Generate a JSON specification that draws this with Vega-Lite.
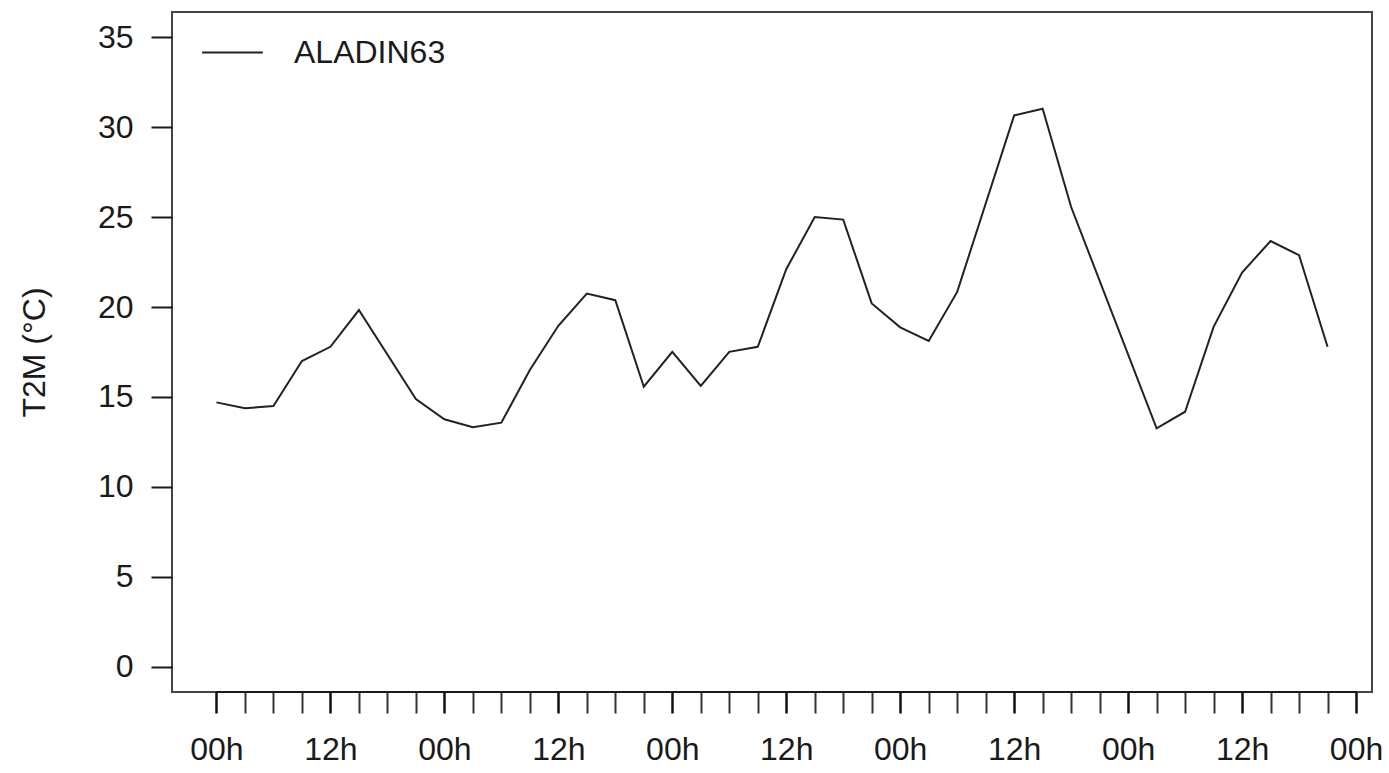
{
  "$schema": "https://vega.github.io/schema/vega-lite/v6.json",
  "autosize": {"type": "none"},
  "width": 1200,
  "height": 680,
  "padding": {"left": 172, "top": 12, "right": 17, "bottom": 81},
  "background": "white",
  "config": {
    "view": {"stroke": "#444", "strokeWidth": 2},
    "font": "Liberation Sans",
    "axis": {"grid": false, "domain": false, "labelFont": "Liberation Sans", "titleFont": "Liberation Sans", "labelColor": "#1a1a1a", "titleColor": "#1a1a1a", "tickColor": "#1a1a1a", "tickWidth": 2, "tickSize": 21, "labelFontSize": 32, "titleFontSize": 32, "titleFontWeight": "normal"}
  },
  "data": {"values": [
    {"h": 0, "t2m": 14.7, "model": "ALADIN63"},
    {"h": 3, "t2m": 14.37, "model": "ALADIN63"},
    {"h": 6, "t2m": 14.5, "model": "ALADIN63"},
    {"h": 9, "t2m": 17.0, "model": "ALADIN63"},
    {"h": 12, "t2m": 17.79, "model": "ALADIN63"},
    {"h": 15, "t2m": 19.83, "model": "ALADIN63"},
    {"h": 21, "t2m": 14.89, "model": "ALADIN63"},
    {"h": 24, "t2m": 13.76, "model": "ALADIN63"},
    {"h": 27, "t2m": 13.32, "model": "ALADIN63"},
    {"h": 30, "t2m": 13.57, "model": "ALADIN63"},
    {"h": 33, "t2m": 16.5, "model": "ALADIN63"},
    {"h": 36, "t2m": 18.96, "model": "ALADIN63"},
    {"h": 39, "t2m": 20.75, "model": "ALADIN63"},
    {"h": 42, "t2m": 20.38, "model": "ALADIN63"},
    {"h": 45, "t2m": 15.57, "model": "ALADIN63"},
    {"h": 48, "t2m": 17.51, "model": "ALADIN63"},
    {"h": 51, "t2m": 15.61, "model": "ALADIN63"},
    {"h": 54, "t2m": 17.51, "model": "ALADIN63"},
    {"h": 57, "t2m": 17.79, "model": "ALADIN63"},
    {"h": 60, "t2m": 22.1, "model": "ALADIN63"},
    {"h": 63, "t2m": 25.0, "model": "ALADIN63"},
    {"h": 66, "t2m": 24.86, "model": "ALADIN63"},
    {"h": 69, "t2m": 20.2, "model": "ALADIN63"},
    {"h": 72, "t2m": 18.87, "model": "ALADIN63"},
    {"h": 75, "t2m": 18.11, "model": "ALADIN63"},
    {"h": 78, "t2m": 20.84, "model": "ALADIN63"},
    {"h": 84, "t2m": 30.65, "model": "ALADIN63"},
    {"h": 87, "t2m": 31.02, "model": "ALADIN63"},
    {"h": 90, "t2m": 25.56, "model": "ALADIN63"},
    {"h": 99, "t2m": 13.26, "model": "ALADIN63"},
    {"h": 102, "t2m": 14.18, "model": "ALADIN63"},
    {"h": 105, "t2m": 18.9, "model": "ALADIN63"},
    {"h": 108, "t2m": 21.92, "model": "ALADIN63"},
    {"h": 111, "t2m": 23.67, "model": "ALADIN63"},
    {"h": 114, "t2m": 22.88, "model": "ALADIN63"},
    {"h": 117, "t2m": 17.79, "model": "ALADIN63"}
  ]},
  "layer": [
    {
      "mark": {"type": "rule", "color": "#1a1a1a", "strokeWidth": 2},
      "encoding": {
        "x": {"datum": 0, "type": "quantitative", "scale": {"domain": [-4.68, 121.68], "nice": false, "zero": false}},
        "x2": {"datum": 120},
        "y": {"datum": -1.4, "type": "quantitative", "scale": {"domain": [-1.4, 36.4], "nice": false, "zero": false}}
      }
    },
    {
      "mark": {"type": "line", "strokeWidth": 2, "interpolate": "linear"},
      "encoding": {
        "x": {"field": "h", "type": "quantitative",
              "scale": {"domain": [-4.68, 121.68], "nice": false, "zero": false},
              "axis": {"title": null, "tickCount": 60, "values": [0,3,6,9,12,15,18,21,24,27,30,33,36,39,42,45,48,51,54,57,60,63,66,69,72,75,78,81,84,87,90,93,96,99,102,105,108,111,114,117,120],
                       "labelExpr": "datum.value % 24 == 0 ? '00h' : (datum.value % 12 == 0 ? '12h' : '')",
                       "tickWidth": {"condition": {"test": "datum.value % 12 == 0", "value": 2.5}, "value": 2},
                       "tickColor": {"condition": {"test": "datum.value % 12 == 0", "value": "#111111"}, "value": "#333333"},
                       "labelPadding": 21, "labelFlush": false, "labelOverlap": false}},
        "y": {"field": "t2m", "type": "quantitative",
              "scale": {"domain": [-1.4, 36.4], "nice": false, "zero": false},
              "axis": {"title": "T2M (°C)", "values": [0,5,10,15,20,25,30,35], "labelPadding": 18, "titlePadding": 46, "labelFlush": false}},
        "color": {"field": "model", "type": "nominal", "scale": {"range": ["#222222"]},
                  "legend": {"title": null, "orient": "none", "legendX": 29, "legendY": 9, "symbolType": "stroke", "symbolSize": 3700, "symbolStrokeWidth": 2, "symbolStrokeColor": "#444444", "labelFontSize": 32, "labelFont": "Liberation Sans", "labelColor": "#1a1a1a", "labelOffset": 30, "padding": 0}}
      }
    }
  ]
}
